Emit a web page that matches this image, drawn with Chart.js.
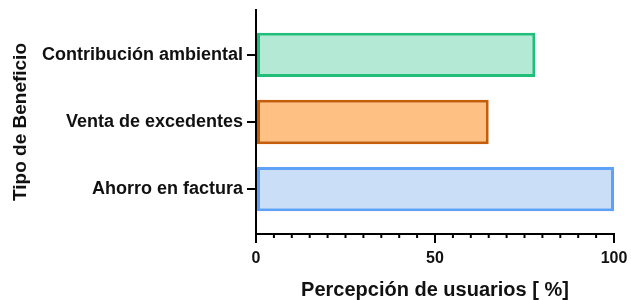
<!DOCTYPE html>
<html>
<head>
<meta charset="utf-8">
<script src="https://cdn.jsdelivr.net/npm/chart.js@4"></script>
<style>
  html, body { margin: 0; padding: 0; background: #fff; }
  #wrap { width: 631px; height: 300px; }
</style>
</head>
<body>
<div id="wrap"><canvas id="chart" width="631" height="300"></canvas></div>
<script>
// Data
const categories = ['Contribución ambiental', 'Venta de excedentes', 'Ahorro en factura'];
const values = [78, 65, 100];
const fillColors = ['#b4e9d6', '#ffc183', '#cadff7'];
const lineColors = ['#1fbf7a', '#c55e0a', '#5da2f7'];
const xTicks = [0, 50, 100];
const xMinorStep = 5;

const font = 'Liberation Sans, Arial, sans-serif';

// minor ticks on the x axis (shorter than the labelled ones)
const minorTicks = {
    id: 'minorTicks',
    afterDraw(chart) {
        const x = chart.scales.x;
        const ctx = chart.ctx;
        ctx.save();
        ctx.strokeStyle = '#000';
        ctx.lineWidth = 2;
        for (let v = x.min; v <= x.max; v += xMinorStep) {
            if (xTicks.includes(v)) continue;
            const px = x.getPixelForValue(v);
            ctx.beginPath();
            ctx.moveTo(px, x.top);
            ctx.lineTo(px, x.top + 4);
            ctx.stroke();
        }
        ctx.restore();
    }
};

new Chart(document.getElementById('chart'), {
    type: 'bar',
    data: {
        datasets: [{
            data: values.map((v, i) => ({ x: v, y: i })),
            backgroundColor: fillColors,
            borderColor: lineColors,
            borderWidth: 3,
            borderSkipped: false,
            categoryPercentage: 1,
            barPercentage: 0.66
        }]
    },
    options: {
        indexAxis: 'y',
        responsive: false,
        animation: false,
        layout: { padding: { top: 10, right: 17, left: 0, bottom: 0 } },
        plugins: { legend: { display: false }, tooltip: { enabled: false } },
        scales: {
            x: {
                type: 'linear',
                min: 0,
                max: 100,
                afterBuildTicks(scale) {
                    scale.ticks = xTicks.map(v => ({ value: v }));
                },
                afterFit(scale) {
                    scale.height = 66;
                    scale.paddingLeft = 0;
                    scale.paddingRight = 0;
                },
                border: { color: '#000', width: 2 },
                grid: { drawOnChartArea: false, color: '#000', tickColor: '#000', tickLength: 9, lineWidth: 2 },
                ticks: { color: '#111', padding: 6, font: { family: font, size: 16, weight: 'bold' } },
                title: {
                    display: true,
                    text: 'Percepción de usuarios [ %]',
                    color: '#111',
                    padding: { top: 8, bottom: 0 },
                    font: { family: font, size: 20, weight: 'bold', lineHeight: 1 }
                }
            },
            y: {
                type: 'linear',
                reverse: true,
                offset: false,
                min: -0.67,
                max: categories.length - 1 + 0.67,
                afterBuildTicks(scale) {
                    scale.ticks = categories.map((c, i) => ({ value: i }));
                },
                afterFit(scale) {
                    scale.width = 256;
                    scale.paddingTop = 0;
                    scale.paddingBottom = 0;
                },
                border: { color: '#000', width: 2 },
                grid: { offset: false, drawOnChartArea: false, color: '#000', tickColor: '#000', tickLength: 9, lineWidth: 2 },
                ticks: {
                    color: '#111',
                    padding: 4,
                    font: { family: font, size: 18, weight: 'bold' },
                    callback: (v) => categories[v]
                },
                title: {
                    display: true,
                    text: 'Tipo de Beneficio',
                    color: '#111',
                    padding: { top: 9, bottom: 0 },
                    font: { family: font, size: 19, weight: 'bold' }
                }
            }
        }
    },
    plugins: [minorTicks]
});
</script>
</body>
</html>
